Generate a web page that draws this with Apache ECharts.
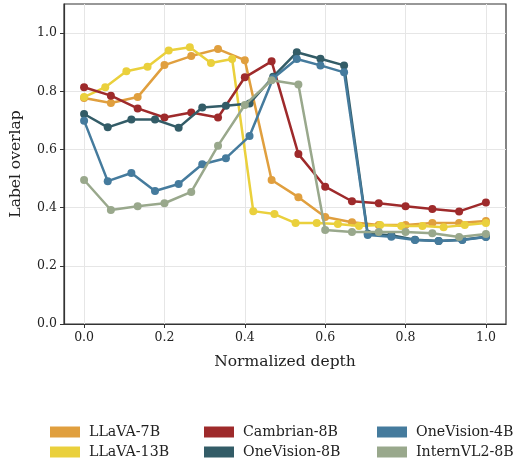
<!DOCTYPE html>
<html>
<head>
<meta charset="utf-8">
<script src="https://cdn.jsdelivr.net/npm/echarts@6/dist/echarts.min.js"></script>
<style>html,body{margin:0;padding:0;background:#fff;}#c{width:522px;height:463px;}</style>
</head>
<body>
<div id="c"></div>
<script>
const seriesNames = ['LLaVA-7B','LLaVA-13B','Cambrian-8B','OneVision-8B','OneVision-4B','InternVL2-8B'];
const colors = ['#E09F3E','#EAD03C','#9E2A2B','#335C67','#457B9D','#99A88C'];
const llava7b = [0.777,0.760,0.780,0.890,0.921,0.945,0.907,0.495,0.436,0.368,0.350,0.340,0.340,0.347,0.347,0.354];
const llava13b = [0.780,0.814,0.869,0.884,0.940,0.951,0.897,0.911,0.388,0.378,0.347,0.347,0.344,0.337,0.340,0.337,0.337,0.333,0.340,0.347];
const cambrian8b = [0.814,0.785,0.741,0.710,0.727,0.710,0.848,0.903,0.584,0.472,0.422,0.415,0.405,0.395,0.387,0.418];
const onevision8b = [0.722,0.676,0.703,0.703,0.675,0.744,0.750,0.758,0.850,0.934,0.912,0.889,0.310,0.305,0.290,0.285,0.290,0.300];
const onevision4b = [0.699,0.491,0.519,0.457,0.481,0.549,0.570,0.646,0.845,0.911,0.889,0.865,0.306,0.300,0.289,0.285,0.289,0.299];
const internvl28b = [0.495,0.392,0.405,0.415,0.454,0.613,0.753,0.838,0.823,0.323,0.316,0.316,0.316,0.312,0.299,0.309];
const xTicks = [0,0.2,0.4,0.6,0.8,1.0];
const yTicks = [0,0.2,0.4,0.6,0.8,1.0];
const allValues = [llava7b, llava13b, cambrian8b, onevision8b, onevision4b, internvl28b];

function toPoints(vals){
  const n = vals.length - 1;
  return vals.map((v,i)=>[i/n, v]);
}
const font = 'DejaVu Serif';
const chart = echarts.init(document.getElementById('c'), null, {renderer:'canvas'});
const legendLefts = [50, 50, 204, 204, 377, 377];
const legendTops = [425, 445, 425, 445, 425, 445];
const legends = seriesNames.map((name,i)=>({
  left: legendLefts[i], top: legendTops[i], orient:'horizontal',
  itemWidth: 30, itemHeight: 11, itemGap: 10, icon:'rect', padding:0,
  textStyle:{fontFamily:font, fontSize:14.2, color:'#222', padding:[0,0,0,4]},
  selectedMode:false, data:[name]
}));
chart.setOption({
  animation:false,
  color: colors,
  grid:{left:64, right:16, top:4, bottom:139, show:true, borderColor:'#333', borderWidth:1.2, containLabel:false},
  legend: legends,
  xAxis:{
    type:'value', min:-0.05, max:1.05,
    name:'Normalized depth', nameLocation:'middle', nameGap:30,
    nameTextStyle:{fontFamily:font, fontSize:15.5, color:'#222'},
    axisLine:{show:true, onZero:false, lineStyle:{color:'#333', width:1.2}},
    axisTick:{show:true, length:4, customValues:xTicks, lineStyle:{color:'#333'}},
    axisLabel:{customValues:xTicks, fontFamily:font, fontSize:12.5, color:'#222', margin:7, formatter:v=>v.toFixed(1)},
    splitLine:{show:true, customValues:xTicks, lineStyle:{color:'#e6e6e6', width:1}}
  },
  yAxis:{
    type:'value', min:0, max:1.1,
    name:'Label overlap', nameLocation:'middle', nameGap:40,
    nameTextStyle:{fontFamily:font, fontSize:15.5, color:'#222'},
    axisLine:{show:true, onZero:false, lineStyle:{color:'#333', width:1.2}},
    axisTick:{show:true, length:4, customValues:yTicks, lineStyle:{color:'#333'}},
    axisLabel:{customValues:yTicks, fontFamily:font, fontSize:12.5, color:'#222', margin:7, formatter:v=>v.toFixed(1)},
    splitLine:{show:true, customValues:yTicks, lineStyle:{color:'#e6e6e6', width:1}}
  },
  series: seriesNames.map((name,i)=>({
    name, type:'line', data: toPoints(allValues[i]),
    symbol:'circle', symbolSize:8, showSymbol:true,
    lineStyle:{width:2.5, color:colors[i]},
    itemStyle:{color:colors[i]},
    emphasis:{disabled:true}, z: 2+i
  }))
});
</script>
</body>
</html>
